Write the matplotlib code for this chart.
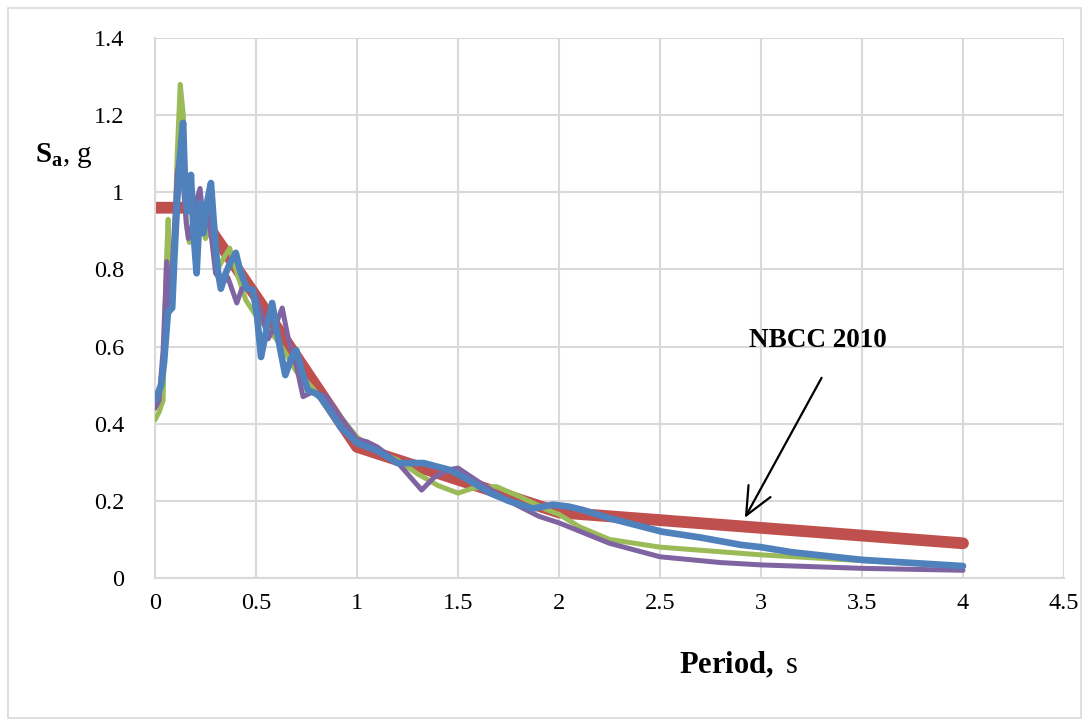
import numpy as np
import matplotlib
matplotlib.use("Agg")
import matplotlib.pyplot as plt
from matplotlib.patches import Rectangle

plt.rcParams['font.family'] = ['Liberation Serif', 'DejaVu Serif']
plt.rcParams['mathtext.fontset'] = 'custom'
plt.rcParams['mathtext.rm'] = 'Liberation Serif'
plt.rcParams['mathtext.it'] = 'Liberation Serif:italic'
plt.rcParams['mathtext.bf'] = 'Liberation Serif:bold'

# NBCC 2010 design spectrum
t_nbcc = [0, 0.2, 0.5, 1.0, 2.0, 4.0]
sa_nbcc = [0.96, 0.96, 0.73, 0.34, 0.17, 0.09]

# scaled record spectra
t_green = [0, 0.02, 0.04, 0.055, 0.065, 0.075, 0.09, 0.11, 0.125, 0.14, 0.155,
           0.17, 0.19, 0.21, 0.23, 0.25, 0.27, 0.29, 0.31, 0.34, 0.37, 0.40,
           0.45, 0.5, 0.55, 0.6, 0.65, 0.7, 0.75, 0.8, 0.9, 1.0, 1.1, 1.2,
           1.3, 1.4, 1.5, 1.575, 1.69, 1.81, 1.94, 2.0, 2.1, 2.25, 2.5, 2.75,
           3.0, 3.5, 4.0]
sa_green = [0.41, 0.43, 0.46, 0.80, 0.93, 0.75, 0.74, 1.10, 1.28, 1.20, 0.92,
            0.87, 0.93, 0.95, 0.91, 0.88, 0.93, 0.86, 0.80, 0.83, 0.855, 0.80,
            0.72, 0.68, 0.65, 0.62, 0.58, 0.535, 0.51, 0.48, 0.43, 0.365,
            0.33, 0.306, 0.27, 0.24, 0.22, 0.233, 0.237, 0.21, 0.177, 0.165,
            0.133, 0.10, 0.08, 0.07, 0.06, 0.045, 0.03]

t_purple = [0, 0.02, 0.04, 0.058, 0.074, 0.09, 0.11, 0.125, 0.14, 0.155, 0.165,
            0.18, 0.2, 0.223, 0.24, 0.26, 0.28, 0.30, 0.337, 0.36, 0.405,
            0.43, 0.46, 0.5, 0.53, 0.56, 0.6, 0.63, 0.66, 0.7, 0.733, 0.77,
            0.8, 0.85, 0.9, 1.0, 1.05, 1.1, 1.2, 1.25, 1.32, 1.38, 1.45, 1.5,
            1.6, 1.75, 1.9, 2.0, 2.25, 2.5, 2.8, 3.0, 3.5, 4.0]
sa_purple = [0.44, 0.46, 0.59, 0.82, 0.69, 0.85, 1.05, 1.10, 1.02, 0.92, 0.88,
             0.90, 0.97, 1.01, 0.92, 0.95, 0.88, 0.79, 0.765, 0.78, 0.713,
             0.75, 0.755, 0.73, 0.68, 0.62, 0.66, 0.70, 0.62, 0.55, 0.47,
             0.48, 0.48, 0.47, 0.43, 0.36, 0.353, 0.34, 0.30, 0.27, 0.228,
             0.26, 0.28, 0.285, 0.25, 0.20, 0.16, 0.143, 0.09, 0.055, 0.04,
             0.034, 0.025, 0.02]

t_blue = [0, 0.03, 0.045, 0.064, 0.085, 0.095, 0.11, 0.125, 0.139, 0.15, 0.16,
          0.178, 0.19, 0.206, 0.223, 0.24, 0.26, 0.277, 0.29, 0.31, 0.326,
          0.35, 0.375, 0.40, 0.42, 0.455, 0.485, 0.505, 0.525, 0.55, 0.58,
          0.61, 0.645, 0.675, 0.70, 0.73, 0.757, 0.79, 0.817, 0.87, 0.92, 1.0,
          1.05, 1.1, 1.2, 1.33, 1.46, 1.55, 1.66, 1.75, 1.87, 1.97, 2.05,
          2.12, 2.25, 2.51, 2.7, 2.9, 3.0, 3.15, 3.5, 4.0]
sa_blue = [0.46, 0.50, 0.56, 0.69, 0.70, 0.82, 0.98, 1.10, 1.18, 1.00, 0.95,
           1.045, 0.90, 0.79, 0.972, 0.894, 0.98, 1.024, 0.93, 0.80, 0.75,
           0.79, 0.82, 0.843, 0.80, 0.75, 0.747, 0.68, 0.573, 0.64, 0.713,
           0.62, 0.526, 0.57, 0.59, 0.53, 0.487, 0.48, 0.47, 0.43, 0.39, 0.35,
           0.34, 0.33, 0.298, 0.298, 0.28, 0.255, 0.22, 0.20, 0.18, 0.19,
           0.185, 0.176, 0.155, 0.12, 0.105, 0.086, 0.08, 0.067, 0.047, 0.031]

x_ticks = np.arange(0, 4.51, 0.5)
y_ticks = np.arange(0, 1.41, 0.2)
x_ticklabels = ['0', '0.5', '1', '1.5', '2', '2.5', '3', '3.5', '4', '4.5']
y_ticklabels = ['0', '0.2', '0.4', '0.6', '0.8', '1', '1.2', '1.4']

fig = plt.figure(figsize=(10.89, 7.26), dpi=100)
ax = fig.add_axes([155 / 1089, 1 - 578 / 726, 909 / 1089, 540 / 726])

grid_c = '#d9d9d9'
ax.plot(t_nbcc, sa_nbcc, color='#c0504d', lw=8.5, solid_capstyle='round',
        solid_joinstyle='round', zorder=2)
ax.plot(t_green, sa_green, color='#9bbb59', lw=3.6, solid_joinstyle='round',
        solid_capstyle='round', zorder=3)
ax.plot(t_purple, sa_purple, color='#8064a2', lw=3.6, solid_joinstyle='round',
        solid_capstyle='round', zorder=4)
ax.plot(t_blue, sa_blue, color='#4f81bd', lw=4.8, solid_joinstyle='round',
        solid_capstyle='round', zorder=5)

ax.set_xlim(0, 4.5)
ax.set_ylim(0, 1.4)
ax.set_xticks(x_ticks)
ax.set_xticklabels(x_ticklabels)
ax.set_yticks(y_ticks)
ax.set_yticklabels(y_ticklabels)
ax.tick_params(length=0, labelsize=17.5, colors='black')
ax.tick_params(axis='x', pad=11)
ax.tick_params(axis='y', pad=22)
ax.grid(True, color=grid_c, lw=1.5)
ax.set_axisbelow(True)
for side in ['top', 'right']:
    ax.spines[side].set_visible(False)
for side in ['left', 'bottom']:
    ax.spines[side].set_color(grid_c)
    ax.spines[side].set_linewidth(1.5)

# label and pointer for the code spectrum
ax.text(3.28, 0.617, 'NBCC 2010', ha='center', va='center', fontsize=19.5,
        fontweight='bold', zorder=6)
ax.annotate('', xy=(2.92, 0.156), xytext=(3.30, 0.519),
            arrowprops=dict(arrowstyle='->,head_length=1.0,head_width=0.45',
                            color='black', lw=1.6, mutation_scale=20,
                            shrinkA=0, shrinkB=0),
            zorder=6)

fig.text(35 / 1089, 1 - 155 / 726, r'$\mathbf{S_a}$, g', fontsize=21,
         ha='left', va='center')
fig.text(738 / 1089, 1 - 665 / 726, r'$\mathbf{Period,}$ s', fontsize=22,
         ha='center', va='center')

fig.patches.append(Rectangle((8 / 1089, 8 / 726), 1073 / 1089, 710 / 726,
                             transform=fig.transFigure, fill=False,
                             edgecolor=grid_c, lw=1.2))

fig.savefig('out.png', dpi=100)
